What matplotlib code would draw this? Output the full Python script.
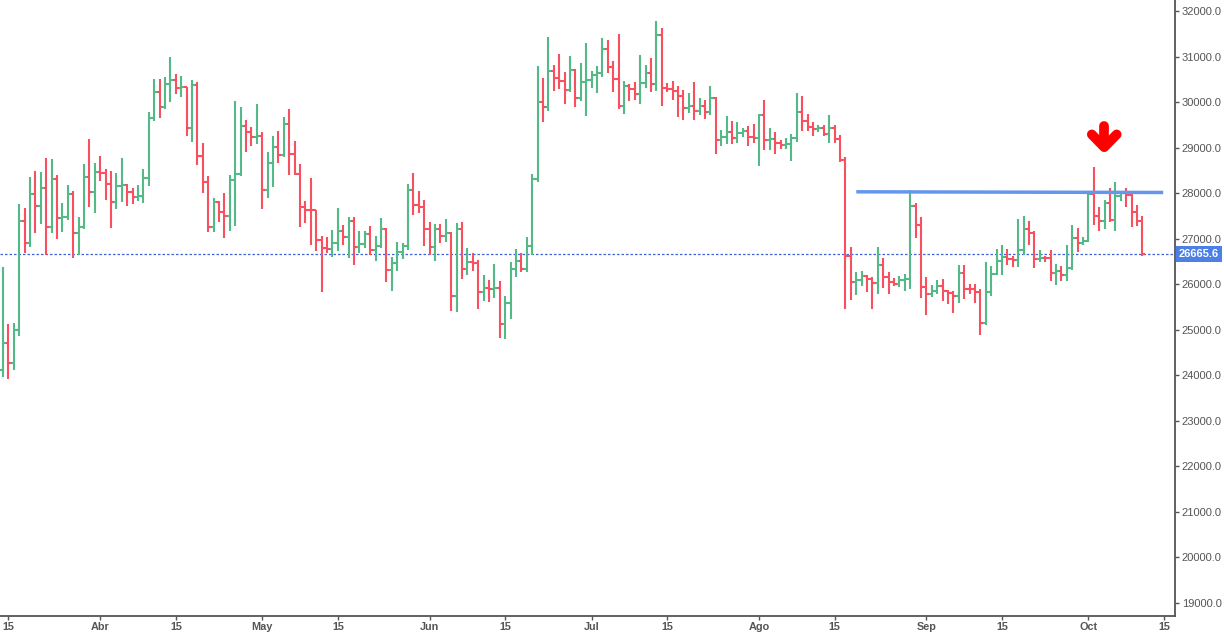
import matplotlib
matplotlib.use("Agg")
import matplotlib.pyplot as plt
import matplotlib.dates as mdates
import matplotlib.transforms as mtransforms
from matplotlib.ticker import FixedLocator, FuncFormatter
import numpy as np
import pandas as pd

###########################################################################
# daily OHLC, 14 Mar 2023 -> 11 Oct 2023 (one row per month)
FIRST_DAY = "2023-03-14"

opens = [
    24116, 24702, 24277, 24995, 27396, 26913, 27974, 27725, 28120, 27264, 28318, 27462, 27483, 27974, 27132, 27264, 28362, 28033,
    28472, 28450, 28208, 27813, 28164, 28186, 28033, 27923, 27945, 28340, 29650, 30221, 29899, 30404, 30492, 30316, 30331, 29438, 30382, 28823, 28252, 27264, 27813, 27593, 27498, 28296, 28428, 29482, 29336, 29240,
    29262, 28077, 28669, 29021, 28845, 29526, 28867, 28428, 27689, 27637, 27623, 26978, 26788, 26766, 26905, 27176, 27044, 27388, 26825, 26891, 27110, 26759, 26847, 27220, 26320, 26473, 26715, 26847, 28077, 27747, 27703,
    27220, 26825, 27220, 27066, 27132, 25749, 27220, 26342, 26495, 26473, 25837, 25924, 25902, 25924, 25134, 25595, 26342, 26517, 26342, 26847, 28318, 30009, 29899, 30690, 30536, 30470, 30272, 30697, 30097, 30448,
    30492, 30602, 30631, 31173, 30770, 30514, 29921, 30360, 30294, 30185, 30426, 30631, 30404, 31480, 30316, 30294, 30251, 30141, 29877, 29921, 29811, 29921, 29789, 30097, 29174, 29240, 29350, 29218, 29328, 29360, 29240,
    29210, 29724, 29174, 29196, 29109, 29065, 29087, 29218, 29789, 29592, 29460, 29416, 29438, 29306, 29438, 29196, 28735, 26627, 26056, 26100, 26188, 26122, 26034, 26429, 26166, 26056, 26012, 26100, 26122, 27725, 27308,
    25932, 25793, 25859, 25968, 25859, 25815, 25749, 26254, 25903, 25890, 25837, 25156, 25837, 26232, 26517, 26605, 26561, 26532, 26759, 27220, 27132, 26561, 26583, 26570, 26254, 26300, 26210, 26364, 27022, 26913,
    26957, 27981, 27498, 27389, 27791, 27410, 27945, 28003, 27967, 27594, 27389,
]
highs = [
    26386, 25127, 25156, 27762, 27674, 28362, 28486, 28464, 28772, 28750, 28399, 27791, 28179, 28047, 27476, 28640, 29189, 28662,
    28816, 28530, 28486, 28442, 28772, 28208, 28120, 28179, 28530, 29782, 30507, 30507, 30551, 30990, 30617, 30573, 30331, 30485, 30441, 29101, 28377, 27901, 27828, 27996, 28399, 30024, 29892, 29606, 29453, 29958,
    29343, 28904, 29255, 29365, 29672, 29848, 29145, 28640, 27828, 28340, 27630, 27066, 27044, 27191, 27681, 27301, 27476, 27476, 27169, 27169, 27279, 27059, 27454, 27235, 26598, 26927, 26905, 28201, 28443, 28055, 27850,
    27367, 27323, 27323, 27433, 27147, 27345, 27367, 26796, 26693, 26532, 26203, 26093, 26444, 26071, 25749, 26488, 26774, 26678, 27037, 28420, 30792, 30529, 31429, 30814, 31056, 30660, 31012, 30726, 30858, 31297,
    30682, 30792, 31407, 31363, 30902, 31495, 30463, 30397, 30441, 31034, 30814, 30968, 31780, 31627, 30419, 30463, 30353, 30273, 30199, 30441, 30090, 30053, 30353, 30111, 29387, 29694, 29584, 29562, 29431, 29475, 29519,
    29738, 30046, 29431, 29343, 29167, 29211, 29299, 30199, 30133, 29738, 29562, 29497, 29497, 29716, 29497, 29277, 28801, 26825, 26268, 26290, 26210, 26166, 26825, 26576, 26268, 26144, 26181, 26225, 28069, 27784, 27476,
    26166, 25983, 26093, 26122, 25873, 25859, 26422, 26422, 26005, 26005, 25903, 26488, 26400, 26774, 26861, 26774, 26620, 27432, 27498, 27389, 27169, 26752, 26620, 26759, 26444, 26400, 26861, 27301, 27235, 27044,
    28033, 28582, 27703, 27850, 28113, 28245, 28033, 28113, 27989, 27740, 27498,
]
lows = [
    23970, 23912, 24116, 24863, 26678, 26825, 27132, 27323, 26649, 27132, 27000, 27147, 27418, 26583, 26649, 27220, 27703, 27571,
    28274, 27850, 27242, 27659, 27813, 27725, 27769, 27835, 27791, 28164, 29592, 29658, 29855, 30009, 30185, 30119, 29262, 29130, 28626, 28011, 27154, 27154, 27374, 27022, 27176, 27286, 28384, 28911, 29043, 29087,
    27659, 27901, 28142, 28669, 28801, 28406, 28406, 27264, 27352, 26869, 26737, 25837, 26693, 26591, 26737, 26869, 26583, 26430, 26693, 26803, 26642, 26517, 26788, 26056, 25858, 26298, 26554, 26752, 27528, 27572, 26847,
    26649, 26517, 26913, 26935, 25419, 25397, 26122, 26210, 26298, 25449, 25639, 25617, 25705, 24826, 24804, 25244, 26166, 26276, 26276, 26649, 28252, 29570, 29811, 30251, 30295, 29965, 30229, 29899, 30031, 29702,
    30316, 30207, 30558, 30646, 30229, 29855, 29745, 30031, 30053, 29965, 30316, 30229, 30251, 29921, 30229, 30053, 29680, 29614, 29767, 29614, 29724, 29636, 29724, 28867, 29043, 29087, 29087, 29109, 29240, 29043, 29109,
    28604, 28955, 28955, 28867, 28977, 28977, 28713, 29130, 29372, 29372, 29262, 29350, 29262, 29109, 29109, 28691, 25463, 25661, 25771, 25968, 25837, 25463, 25793, 25924, 25793, 25968, 25946, 25859, 25903, 27015, 25705,
    25332, 25727, 25793, 25639, 25573, 25375, 25595, 25683, 25793, 25595, 24892, 25112, 25749, 26210, 26210, 26430, 26386, 26386, 26649, 26869, 26364, 26488, 26495, 26078, 25990, 26078, 26078, 26320, 26715, 26869,
    26935, 27301, 27176, 27213, 27367, 27176, 27835, 27703, 27264, 27286, 26627,
]
closes = [
    24702, 24277, 24995, 27396, 26913, 27974, 27725, 28120, 27264, 28318, 27462, 27483, 27974, 27132, 27264, 28362, 28033, 28472,
    28450, 28208, 27813, 28164, 28186, 28033, 27923, 27945, 28340, 29650, 30221, 29899, 30404, 30492, 30316, 30331, 29438, 30382, 28823, 28252, 27264, 27813, 27593, 27498, 28289, 28428, 29482, 29336, 29240, 29262,
    28077, 28669, 29021, 28845, 29526, 28867, 28428, 27689, 27637, 27623, 26978, 26788, 26766, 26905, 27176, 27044, 27388, 26825, 26891, 27110, 26759, 26847, 27220, 26320, 26473, 26715, 26847, 28077, 27747, 27703, 27220,
    26825, 27220, 27066, 27132, 25749, 27220, 26342, 26495, 26473, 25837, 25924, 25902, 25924, 25134, 25595, 26342, 26517, 26342, 26847, 28318, 30009, 29899, 30690, 30536, 30470, 30272, 30697, 30097, 30448, 30492,
    30602, 30631, 31173, 30770, 30514, 29921, 30360, 30294, 30185, 30426, 30631, 30404, 31480, 30316, 30294, 30251, 30141, 29877, 29921, 29811, 29921, 29789, 30097, 29174, 29240, 29350, 29218, 29328, 29360, 29240, 29210,
    29724, 29174, 29196, 29109, 29065, 29087, 29218, 29789, 29592, 29460, 29416, 29438, 29306, 29438, 29196, 28735, 26627, 26056, 26100, 26188, 26122, 26034, 26429, 26166, 26056, 26012, 26100, 26122, 27725, 27308, 25932,
    25793, 25859, 25968, 25859, 25815, 25749, 26254, 25903, 25890, 25837, 25156, 25837, 26232, 26517, 26605, 26561, 26532, 26759, 27220, 27132, 26561, 26583, 26570, 26254, 26300, 26210, 26364, 27022, 26913, 26957,
    27981, 27498, 27389, 27791, 27410, 27945, 28003, 27967, 27594, 27389, 26666,
]

LAST_PRICE = 26665.6

# resistance line drawn by hand on the chart
resist_dates = ["2023-08-19 00:00", "2023-10-14 20:00"]
resist_prices = [28030, 28015]

# red arrow above the rejected wick
ARROW_DATE = "2023-10-03 22:00"
ARROW_TOP = 29470
ARROW_TIP = 29010

month_names = {4: "Abr", 5: "May", 6: "Jun", 7: "Jul", 8: "Ago", 9: "Sep", 10: "Oct"}

###########################################################################
GREEN = "#53b987"
RED = "#f9505f"
AXIS_GREY = "#555555"

plt.rcParams["font.family"] = ["Liberation Sans", "DejaVu Sans"]

dates = pd.date_range(FIRST_DAY, periods=len(closes), freq="D")
x = mdates.date2num(dates.to_pydatetime())
o = np.array(opens, dtype=float)
h = np.array(highs, dtype=float)
l = np.array(lows, dtype=float)
c = np.array(closes, dtype=float)
colors = np.where(c >= o, GREEN, RED)

fig = plt.figure(figsize=(12.24, 6.32), dpi=100)
ax = fig.add_axes([0.0, 0.0253, 0.9597, 0.9747])

BAR_LW = 1.5
TICK_LEN = 0.5
ax.vlines(x, l, h, colors=colors, linewidth=BAR_LW)
ax.hlines(o, x - TICK_LEN, x, colors=colors, linewidth=BAR_LW)
ax.hlines(c, x, x + TICK_LEN, colors=colors, linewidth=BAR_LW)

# last price dotted line
ax.axhline(LAST_PRICE, color="#3f63d8", linewidth=0.9, linestyle=(0, (2, 1.6)), zorder=1)

# resistance
rx = [mdates.date2num(pd.Timestamp(s).to_pydatetime()) for s in resist_dates]
ax.plot(rx, resist_prices, color="#6596ee", linewidth=2.5, solid_capstyle="butt", zorder=3)

# arrow (chevron + stem)
ax_x = mdates.date2num(pd.Timestamp(ARROW_DATE).to_pydatetime())
arm_dx = 2.3
arm_dy = 280
arrow_kw = dict(color="#ff0000", linewidth=7, solid_capstyle="round", solid_joinstyle="round", zorder=5)
ax.plot([ax_x, ax_x], [ARROW_TOP, ARROW_TIP + 60], **arrow_kw)
ax.plot([ax_x - arm_dx, ax_x, ax_x + arm_dx], [ARROW_TIP + arm_dy, ARROW_TIP, ARROW_TIP + arm_dy], **arrow_kw)

# axes limits
x_left = mdates.date2num(pd.Timestamp("2023-03-15").to_pydatetime()) - 1.56
x_right = mdates.date2num(pd.Timestamp("2023-10-15").to_pydatetime()) + 1.96
ax.set_xlim(x_left, x_right)
ax.set_ylim(18714, 32242)

# x ticks: 1st and 15th of each month
tick_days = []
for m in range(3, 11):
    for d in (1, 15):
        t = pd.Timestamp(2023, m, d)
        if pd.Timestamp("2023-03-15") <= t <= pd.Timestamp("2023-10-15"):
            tick_days.append(t)
ax.xaxis.set_major_locator(FixedLocator(mdates.date2num([t.to_pydatetime() for t in tick_days])))


def fmt_date(val, pos):
    d = mdates.num2date(val)
    if d.day == 1:
        return month_names.get(d.month, "")
    return str(d.day)


ax.xaxis.set_major_formatter(FuncFormatter(fmt_date))

ax.yaxis.tick_right()
ax.set_yticks(np.arange(19000, 32001, 1000))
ax.yaxis.set_major_formatter(FuncFormatter(lambda v, p: "%.1f" % v))

ax.tick_params(axis="both", colors=AXIS_GREY, labelsize=8, length=3, width=1)
ax.tick_params(axis="x", pad=1, labelsize=7.8)
ax.tick_params(axis="y", pad=2)
for lab in ax.get_xticklabels():
    lab.set_fontweight("bold")

for side in ("top", "left"):
    ax.spines[side].set_visible(False)
for side in ("right", "bottom"):
    ax.spines[side].set_color(AXIS_GREY)
    ax.spines[side].set_linewidth(1.3)

# last price tag on the price axis
trans = mtransforms.blended_transform_factory(ax.transAxes, ax.transData)
ax.annotate(
    "%.1f" % LAST_PRICE,
    xy=(1.0, LAST_PRICE),
    xycoords=trans,
    xytext=(3, 0),
    textcoords="offset points",
    ha="left",
    va="center",
    color="white",
    fontsize=8,
    fontweight="bold",
    bbox=dict(boxstyle="square,pad=0.25", fc="#4d80e6", ec="none"),
    annotation_clip=False,
    zorder=10,
)

fig.savefig("out.png", dpi=100)
